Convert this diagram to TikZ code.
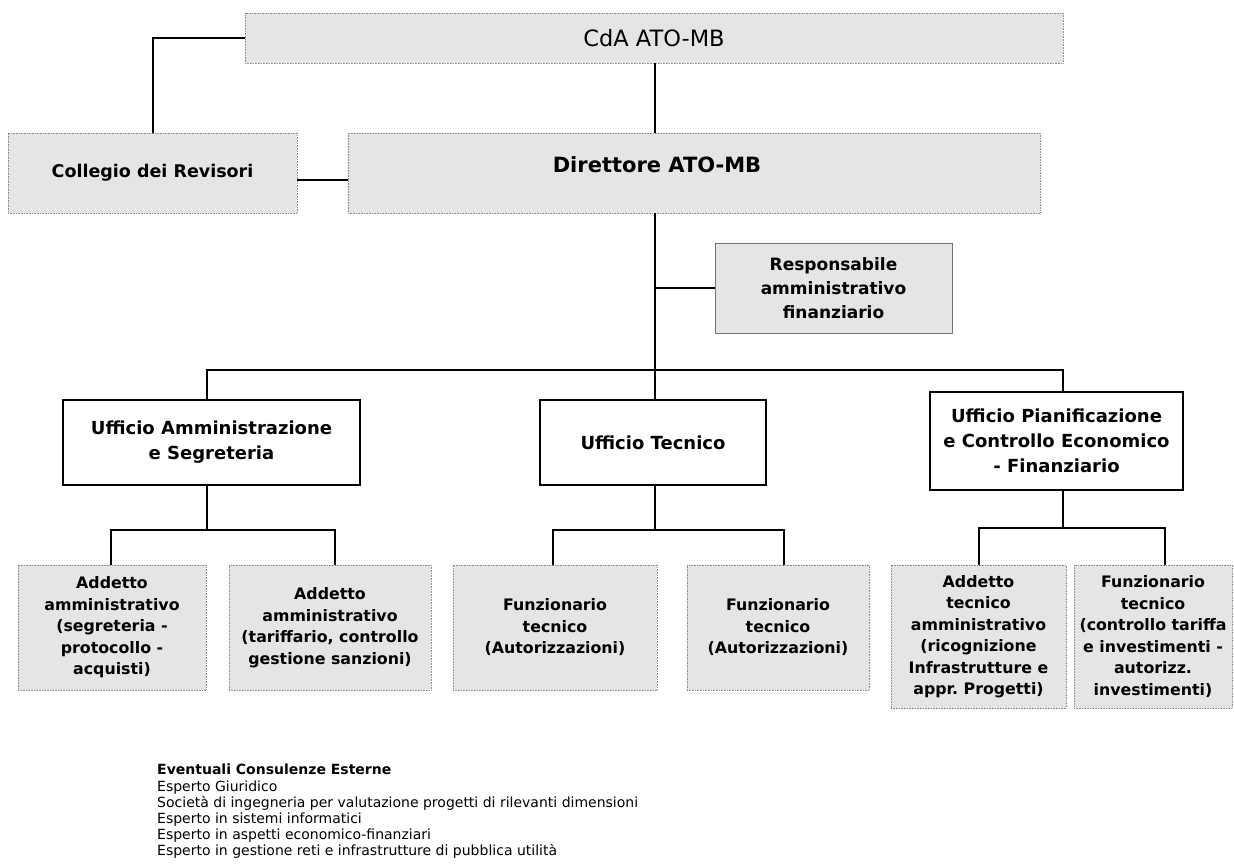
\documentclass[tikz,border=0pt]{standalone}
\usepackage{fontspec}
\setmainfont{DejaVu Sans}
\begin{document}
\begin{tikzpicture}[x=1pt,y=-1pt,
  stip/.style={draw=black!45, densely dotted, fill=black!10, line width=0.6pt, inner sep=0pt},
  uff/.style={draw=black, line width=1.6pt, fill=white, align=center, inner sep=0pt,
              font=\fontsize{18}{25}\selectfont\bfseries},
  sub/.style={stip, align=center, font=\fontsize{15.8}{21.5}\selectfont\bfseries},
  conn/.style={line width=1.5pt, draw=black}]
\useasboundingbox (0,0) rectangle (1234,863);

% top level
\node[stip, minimum width=818pt, minimum height=50pt, font=\fontsize{22.5}{27}\selectfont] (cda) at (654,38) {CdA ATO-MB};
\node[stip, minimum width=289pt, minimum height=80pt, font=\fontsize{17.5}{22}\selectfont\bfseries] (col) at (152.5,173) {Collegio dei Revisori};
\node[stip, minimum width=692pt, minimum height=80pt] (dir) at (694,173) {};
\node[font=\fontsize{21}{25}\selectfont\bfseries, inner sep=0pt] (dirt) at (657,165) {Direttore ATO-MB};
\node[stip, draw=black!55, solid, minimum width=237pt, minimum height=90pt, align=center,
      font=\fontsize{17}{24}\selectfont\bfseries] (resp) at (833.5,288) {Responsabile\\amministrativo\\finanziario};

% offices
\node[uff, minimum width=297pt, minimum height=85pt] (amm) at (211.5,442.5) {Ufficio Amministrazione\\e Segreteria};
\node[uff, minimum width=226pt, minimum height=85pt] (tec) at (653,442.5) {Ufficio Tecnico};
\node[uff, minimum width=253pt, minimum height=98pt] (pia) at (1056.5,441) {Ufficio Pianificazione\\e Controllo Economico\\- Finanziario};

% sub boxes
\node[sub, minimum width=188pt, minimum height=125pt] (a1) at (112,627.5) {Addetto\\amministrativo\\(segreteria -\\protocollo -\\acquisti)};
\node[sub, minimum width=202pt, minimum height=125pt] (a2) at (330,627.5) {Addetto\\amministrativo\\(tariffario, controllo\\gestione sanzioni)};
\node[sub, minimum width=204pt, minimum height=125pt] (b1) at (555,627.5) {Funzionario\\tecnico\\(Autorizzazioni)};
\node[sub, minimum width=182pt, minimum height=125pt] (b2) at (778,627.5) {Funzionario\\tecnico\\(Autorizzazioni)};
\node[sub, minimum width=175pt, minimum height=143pt] (c1) at (978.5,636.5) {Addetto\\tecnico\\amministrativo\\(ricognizione\\Infrastrutture e\\appr.\ Progetti)};
\node[sub, minimum width=158pt, minimum height=143pt] (c2) at (1153,636.5) {Funzionario\\tecnico\\(controllo tariffa\\e investimenti -\\autorizz.\\investimenti)};

% connectors top
\coordinate (kc) at (153,38);
\draw[conn] (cda.west) -- (kc) -- (kc |- col.north);
\draw[conn] (col.east |- 0,180) -- (dir.west |- 0,180);
\draw[conn] (cda.south -| 655,0) -- (dir.north -| 655,0);
\coordinate (bm) at (655,370);
\draw[conn] (dir.south -| bm) -- (bm) -- (tec.north -| bm);
\draw[conn] (resp.west -| bm) -- (resp.west);
\coordinate (bl) at (207,370);
\coordinate (br) at (1063,370);
\draw[conn] (bl |- amm.north) -- (bl) -- (br) -- (br |- pia.north);

% sub connectors
\coordinate (sa) at (207,530);
\draw[conn] (amm.south -| sa) -- (sa);
\draw[conn] (a1.north -| 111,0) -- (111,530) -- (335,530) -- (a2.north -| 335,0);
\coordinate (sb) at (655,530);
\draw[conn] (tec.south -| sb) -- (sb);
\draw[conn] (b1.north -| 553,0) -- (553,530) -- (784,530) -- (b2.north -| 784,0);
\coordinate (sc) at (1063,528);
\draw[conn] (pia.south -| sc) -- (sc);
\draw[conn] (c1.north -| 979,0) -- (979,528) -- (1165,528) -- (c2.north -| 1165,0);

% external consultants
\node[anchor=north west, align=left, inner sep=0pt, font=\fontsize{14}{16.2}\selectfont] (ext) at (157,764)
 {\textbf{Eventuali Consulenze Esterne}\\
  Esperto Giuridico\\
  Società di ingegneria per valutazione progetti di rilevanti dimensioni\\
  Esperto in sistemi informatici\\
  Esperto in aspetti economico-finanziari\\
  Esperto in gestione reti e infrastrutture di pubblica utilità};
\end{tikzpicture}
\end{document}
